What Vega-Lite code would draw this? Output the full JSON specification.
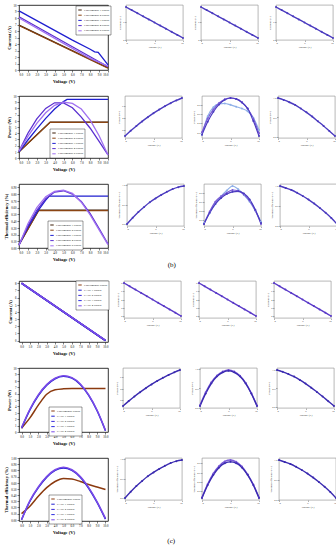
{
"$schema": "https://vega.github.io/schema/vega-lite/v6.json",
"background": "white",
"padding": {"left": 3, "top": 3, "right": 2, "bottom": 2},
"spacing": 11,
"resolve": {"scale": {"color": "independent"}, "legend": {"color": "independent"}},
"datasets": {
"big": [
{"p":"B1","s":"Experimental 1 results","v":0,"y":6.9},{"p":"B1","s":"Experimental 1 results","v":10,"y":0.35},
{"p":"B1","s":"Experimental 2 results","v":0,"y":6.85},{"p":"B1","s":"Experimental 2 results","v":10,"y":0.3},
{"p":"B1","s":"Experimental 3 results","v":0,"y":9.1},{"p":"B1","s":"Experimental 3 results","v":2,"y":7.6},{"p":"B1","s":"Experimental 3 results","v":4,"y":6.1},{"p":"B1","s":"Experimental 3 results","v":6,"y":4.6},{"p":"B1","s":"Experimental 3 results","v":8,"y":3.2},{"p":"B1","s":"Experimental 3 results","v":8.5,"y":2.8},{"p":"B1","s":"Experimental 3 results","v":8.9,"y":2.7},{"p":"B1","s":"Experimental 3 results","v":10,"y":0.8},
{"p":"B1","s":"Experimental 4 results","v":0,"y":8.2},{"p":"B1","s":"Experimental 4 results","v":10,"y":0.5},
{"p":"B1","s":"Experimental 5 results","v":0,"y":8.0},{"p":"B1","s":"Experimental 5 results","v":5,"y":4.1},{"p":"B1","s":"Experimental 5 results","v":8,"y":1.8},{"p":"B1","s":"Experimental 5 results","v":10,"y":0.6},

{"p":"B2","s":"Experimental 1 results","v":0,"y":1.0},{"p":"B2","s":"Experimental 1 results","v":3.5,"y":5.8},{"p":"B2","s":"Experimental 1 results","v":10,"y":5.8},
{"p":"B2","s":"Experimental 2 results","v":0,"y":1.0},{"p":"B2","s":"Experimental 2 results","v":3.5,"y":5.75},{"p":"B2","s":"Experimental 2 results","v":10,"y":5.75},
{"p":"B2","s":"Experimental 3 results","v":0,"y":1.0},{"p":"B2","s":"Experimental 3 results","v":1,"y":2.9},{"p":"B2","s":"Experimental 3 results","v":2,"y":4.7},{"p":"B2","s":"Experimental 3 results","v":3,"y":6.4},{"p":"B2","s":"Experimental 3 results","v":4,"y":7.9},{"p":"B2","s":"Experimental 3 results","v":5,"y":9.1},{"p":"B2","s":"Experimental 3 results","v":5.4,"y":9.45},{"p":"B2","s":"Experimental 3 results","v":10,"y":9.45},
{"p":"B2","s":"Experimental 4 results","v":0,"y":1.1},{"p":"B2","s":"Experimental 4 results","v":1,"y":4.0},{"p":"B2","s":"Experimental 4 results","v":2,"y":6.3},{"p":"B2","s":"Experimental 4 results","v":3,"y":8.0},{"p":"B2","s":"Experimental 4 results","v":4,"y":8.9},{"p":"B2","s":"Experimental 4 results","v":5,"y":8.9},{"p":"B2","s":"Experimental 4 results","v":6,"y":8.1},{"p":"B2","s":"Experimental 4 results","v":7,"y":6.6},{"p":"B2","s":"Experimental 4 results","v":8,"y":4.8},{"p":"B2","s":"Experimental 4 results","v":9,"y":2.7},{"p":"B2","s":"Experimental 4 results","v":10,"y":0.5},
{"p":"B2","s":"Experimental 5 results","v":0,"y":1.1},{"p":"B2","s":"Experimental 5 results","v":1,"y":3.5},{"p":"B2","s":"Experimental 5 results","v":2,"y":5.6},{"p":"B2","s":"Experimental 5 results","v":3,"y":7.3},{"p":"B2","s":"Experimental 5 results","v":4,"y":8.5},{"p":"B2","s":"Experimental 5 results","v":5,"y":9.0},{"p":"B2","s":"Experimental 5 results","v":6,"y":8.8},{"p":"B2","s":"Experimental 5 results","v":7,"y":7.9},{"p":"B2","s":"Experimental 5 results","v":8,"y":6.1},{"p":"B2","s":"Experimental 5 results","v":9,"y":3.6},{"p":"B2","s":"Experimental 5 results","v":10,"y":0.5},

{"p":"B3","s":"Experimental 1 results","v":0,"y":0.05},{"p":"B3","s":"Experimental 1 results","v":2.2,"y":0.56},{"p":"B3","s":"Experimental 1 results","v":10,"y":0.56},
{"p":"B3","s":"Experimental 2 results","v":0,"y":0.05},{"p":"B3","s":"Experimental 2 results","v":2.2,"y":0.555},{"p":"B3","s":"Experimental 2 results","v":10,"y":0.555},
{"p":"B3","s":"Experimental 3 results","v":0,"y":0.05},{"p":"B3","s":"Experimental 3 results","v":1,"y":0.31},{"p":"B3","s":"Experimental 3 results","v":2,"y":0.53},{"p":"B3","s":"Experimental 3 results","v":3,"y":0.71},{"p":"B3","s":"Experimental 3 results","v":3.4,"y":0.77},{"p":"B3","s":"Experimental 3 results","v":10,"y":0.77},
{"p":"B3","s":"Experimental 4 results","v":0,"y":0.04},{"p":"B3","s":"Experimental 4 results","v":1,"y":0.33},{"p":"B3","s":"Experimental 4 results","v":2,"y":0.56},{"p":"B3","s":"Experimental 4 results","v":3,"y":0.73},{"p":"B3","s":"Experimental 4 results","v":4,"y":0.83},{"p":"B3","s":"Experimental 4 results","v":5,"y":0.85},{"p":"B3","s":"Experimental 4 results","v":6,"y":0.8},{"p":"B3","s":"Experimental 4 results","v":7,"y":0.69},{"p":"B3","s":"Experimental 4 results","v":8,"y":0.51},{"p":"B3","s":"Experimental 4 results","v":9,"y":0.29},{"p":"B3","s":"Experimental 4 results","v":10,"y":0.06},
{"p":"B3","s":"Experimental 5 results","v":0,"y":0.04},{"p":"B3","s":"Experimental 5 results","v":1,"y":0.36},{"p":"B3","s":"Experimental 5 results","v":2,"y":0.6},{"p":"B3","s":"Experimental 5 results","v":3,"y":0.76},{"p":"B3","s":"Experimental 5 results","v":4,"y":0.84},{"p":"B3","s":"Experimental 5 results","v":5,"y":0.86},{"p":"B3","s":"Experimental 5 results","v":6,"y":0.81},{"p":"B3","s":"Experimental 5 results","v":7,"y":0.68},{"p":"B3","s":"Experimental 5 results","v":8,"y":0.49},{"p":"B3","s":"Experimental 5 results","v":9,"y":0.27},{"p":"B3","s":"Experimental 5 results","v":10,"y":0.05},

{"p":"C1","s":"Experimental results","v":0,"y":8},{"p":"C1","s":"Experimental results","v":10,"y":0},
{"p":"C1","s":"CASE 1 results","v":0,"y":8.02},{"p":"C1","s":"CASE 1 results","v":10,"y":0.02},
{"p":"C1","s":"CASE 2 results","v":0,"y":8.0},{"p":"C1","s":"CASE 2 results","v":10,"y":0.0},
{"p":"C1","s":"CASE 3 results","v":0,"y":7.98},{"p":"C1","s":"CASE 3 results","v":10,"y":0.0},
{"p":"C1","s":"CASE 4 results","v":0,"y":8.0},{"p":"C1","s":"CASE 4 results","v":10,"y":0.02},

{"p":"C2","s":"Experimental results","v":0,"y":0.6},{"p":"C2","s":"Experimental results","v":1,"y":2.2},{"p":"C2","s":"Experimental results","v":2,"y":4.2},{"p":"C2","s":"Experimental results","v":3,"y":5.9},{"p":"C2","s":"Experimental results","v":4,"y":6.6},{"p":"C2","s":"Experimental results","v":5,"y":6.75},{"p":"C2","s":"Experimental results","v":6,"y":6.8},{"p":"C2","s":"Experimental results","v":8,"y":6.8},{"p":"C2","s":"Experimental results","v":10,"y":6.8},
{"p":"C2","s":"CASE 1 results","v":0,"y":0.6},{"p":"C2","s":"CASE 1 results","v":1,"y":3.47},{"p":"C2","s":"CASE 1 results","v":2,"y":5.71},{"p":"C2","s":"CASE 1 results","v":3,"y":7.32},{"p":"C2","s":"CASE 1 results","v":4,"y":8.32},{"p":"C2","s":"CASE 1 results","v":5,"y":8.7},{"p":"C2","s":"CASE 1 results","v":6,"y":8.41},{"p":"C2","s":"CASE 1 results","v":7,"y":7.42},{"p":"C2","s":"CASE 1 results","v":8,"y":5.72},{"p":"C2","s":"CASE 1 results","v":9,"y":3.32},{"p":"C2","s":"CASE 1 results","v":10,"y":0.2},
{"p":"C2","s":"CASE 4 results","v":0,"y":0.65},{"p":"C2","s":"CASE 4 results","v":1,"y":3.55},{"p":"C2","s":"CASE 4 results","v":2,"y":5.8},{"p":"C2","s":"CASE 4 results","v":3,"y":7.4},{"p":"C2","s":"CASE 4 results","v":4,"y":8.4},{"p":"C2","s":"CASE 4 results","v":5,"y":8.78},{"p":"C2","s":"CASE 4 results","v":6,"y":8.49},{"p":"C2","s":"CASE 4 results","v":7,"y":7.5},{"p":"C2","s":"CASE 4 results","v":8,"y":5.8},{"p":"C2","s":"CASE 4 results","v":9,"y":3.4},{"p":"C2","s":"CASE 4 results","v":10,"y":0.25},

{"p":"C3","s":"Experimental results","v":0,"y":0.1},{"p":"C3","s":"Experimental results","v":1,"y":0.22},{"p":"C3","s":"Experimental results","v":2,"y":0.38},{"p":"C3","s":"Experimental results","v":3,"y":0.52},{"p":"C3","s":"Experimental results","v":4,"y":0.62},{"p":"C3","s":"Experimental results","v":5,"y":0.67},{"p":"C3","s":"Experimental results","v":6,"y":0.66},{"p":"C3","s":"Experimental results","v":7,"y":0.62},{"p":"C3","s":"Experimental results","v":8,"y":0.57},{"p":"C3","s":"Experimental results","v":9,"y":0.53},{"p":"C3","s":"Experimental results","v":10,"y":0.49},
{"p":"C3","s":"CASE 1 results","v":0,"y":0.0},{"p":"C3","s":"CASE 1 results","v":1,"y":0.3},{"p":"C3","s":"CASE 1 results","v":2,"y":0.52},{"p":"C3","s":"CASE 1 results","v":3,"y":0.69},{"p":"C3","s":"CASE 1 results","v":4,"y":0.8},{"p":"C3","s":"CASE 1 results","v":5,"y":0.84},{"p":"C3","s":"CASE 1 results","v":6,"y":0.8},{"p":"C3","s":"CASE 1 results","v":7,"y":0.69},{"p":"C3","s":"CASE 1 results","v":8,"y":0.51},{"p":"C3","s":"CASE 1 results","v":9,"y":0.28},{"p":"C3","s":"CASE 1 results","v":10,"y":0.01},
{"p":"C3","s":"CASE 4 results","v":0,"y":0.0},{"p":"C3","s":"CASE 4 results","v":1,"y":0.31},{"p":"C3","s":"CASE 4 results","v":2,"y":0.53},{"p":"C3","s":"CASE 4 results","v":3,"y":0.7},{"p":"C3","s":"CASE 4 results","v":4,"y":0.81},{"p":"C3","s":"CASE 4 results","v":5,"y":0.85},{"p":"C3","s":"CASE 4 results","v":6,"y":0.81},{"p":"C3","s":"CASE 4 results","v":7,"y":0.7},{"p":"C3","s":"CASE 4 results","v":8,"y":0.52},{"p":"C3","s":"CASE 4 results","v":9,"y":0.29},{"p":"C3","s":"CASE 4 results","v":10,"y":0.02}
],
"small": [
{"p":"11","s":"d","v":0,"y":9.0},{"p":"11","s":"d","v":1,"y":8.15},{"p":"11","s":"d","v":2,"y":7.3},{"p":"11","s":"d","v":3,"y":6.45},{"p":"11","s":"d","v":4,"y":5.6},{"p":"11","s":"d","v":5,"y":4.75},{"p":"11","s":"d","v":6,"y":3.9},{"p":"11","s":"d","v":7,"y":3.05},{"p":"11","s":"d","v":8,"y":2.2},{"p":"11","s":"d","v":9,"y":1.35},{"p":"11","s":"d","v":10,"y":0.5},
{"p":"12","s":"d","v":0,"y":9.0},{"p":"12","s":"d","v":1,"y":8.15},{"p":"12","s":"d","v":2,"y":7.3},{"p":"12","s":"d","v":3,"y":6.45},{"p":"12","s":"d","v":4,"y":5.6},{"p":"12","s":"d","v":5,"y":4.75},{"p":"12","s":"d","v":6,"y":3.9},{"p":"12","s":"d","v":7,"y":3.05},{"p":"12","s":"d","v":8,"y":2.2},{"p":"12","s":"d","v":9,"y":1.35},{"p":"12","s":"d","v":10,"y":0.5},
{"p":"13","s":"d","v":0,"y":9.0},{"p":"13","s":"d","v":1,"y":8.15},{"p":"13","s":"d","v":2,"y":7.3},{"p":"13","s":"d","v":3,"y":6.45},{"p":"13","s":"d","v":4,"y":5.6},{"p":"13","s":"d","v":5,"y":4.75},{"p":"13","s":"d","v":6,"y":3.9},{"p":"13","s":"d","v":7,"y":3.05},{"p":"13","s":"d","v":8,"y":2.2},{"p":"13","s":"d","v":9,"y":1.35},{"p":"13","s":"d","v":10,"y":0.5},
{"p":"21","s":"d","v":0,"y":1.0},{"p":"21","s":"d","v":1,"y":1.85},{"p":"21","s":"d","v":2,"y":2.65},{"p":"21","s":"d","v":3,"y":3.4},{"p":"21","s":"d","v":4,"y":4.1},{"p":"21","s":"d","v":5,"y":4.75},{"p":"21","s":"d","v":6,"y":5.35},{"p":"21","s":"d","v":7,"y":5.9},{"p":"21","s":"d","v":8,"y":6.4},{"p":"21","s":"d","v":9,"y":6.85},{"p":"21","s":"d","v":10,"y":7.25},
{"p":"22","s":"l","v":0,"y":0.15},{"p":"22","s":"l","v":1,"y":0.55},{"p":"22","s":"l","v":2,"y":0.75},{"p":"22","s":"l","v":3,"y":0.82},{"p":"22","s":"l","v":4,"y":0.83},{"p":"22","s":"l","v":5,"y":0.8},{"p":"22","s":"l","v":6,"y":0.76},{"p":"22","s":"l","v":7,"y":0.72},{"p":"22","s":"l","v":8,"y":0.66},{"p":"22","s":"l","v":9,"y":0.52},{"p":"22","s":"l","v":10,"y":0.25},
{"p":"22","s":"m","v":0,"y":0.2},{"p":"22","s":"m","v":1,"y":0.5},{"p":"22","s":"m","v":2,"y":0.7},{"p":"22","s":"m","v":3,"y":0.84},{"p":"22","s":"m","v":4,"y":0.92},{"p":"22","s":"m","v":5,"y":0.95},{"p":"22","s":"m","v":6,"y":0.93},{"p":"22","s":"m","v":7,"y":0.86},{"p":"22","s":"m","v":8,"y":0.72},{"p":"22","s":"m","v":9,"y":0.5},{"p":"22","s":"m","v":10,"y":0.18},
{"p":"22","s":"d","v":0,"y":0.15},{"p":"22","s":"d","v":1,"y":0.43},{"p":"22","s":"d","v":2,"y":0.65},{"p":"22","s":"d","v":3,"y":0.81},{"p":"22","s":"d","v":4,"y":0.91},{"p":"22","s":"d","v":5,"y":0.95},{"p":"22","s":"d","v":6,"y":0.93},{"p":"22","s":"d","v":7,"y":0.85},{"p":"22","s":"d","v":8,"y":0.72},{"p":"22","s":"d","v":9,"y":0.45},{"p":"22","s":"d","v":10,"y":0.12},
{"p":"23","s":"d","v":0,"y":1.0},{"p":"23","s":"d","v":1,"y":0.95},{"p":"23","s":"d","v":2,"y":0.89},{"p":"23","s":"d","v":3,"y":0.82},{"p":"23","s":"d","v":4,"y":0.73},{"p":"23","s":"d","v":5,"y":0.63},{"p":"23","s":"d","v":6,"y":0.52},{"p":"23","s":"d","v":7,"y":0.4},{"p":"23","s":"d","v":8,"y":0.28},{"p":"23","s":"d","v":9,"y":0.15},{"p":"23","s":"d","v":10,"y":0.02},
{"p":"31","s":"d","v":0,"y":0.0},{"p":"31","s":"d","v":1,"y":0.16},{"p":"31","s":"d","v":2,"y":0.31},{"p":"31","s":"d","v":3,"y":0.44},{"p":"31","s":"d","v":4,"y":0.56},{"p":"31","s":"d","v":5,"y":0.66},{"p":"31","s":"d","v":6,"y":0.75},{"p":"31","s":"d","v":7,"y":0.83},{"p":"31","s":"d","v":8,"y":0.9},{"p":"31","s":"d","v":9,"y":0.95},{"p":"31","s":"d","v":10,"y":0.98},
{"p":"32","s":"l","v":0,"y":0.12},{"p":"32","s":"l","v":1,"y":0.35},{"p":"32","s":"l","v":2,"y":0.55},{"p":"32","s":"l","v":3,"y":0.72},{"p":"32","s":"l","v":4,"y":0.85},{"p":"32","s":"l","v":5,"y":0.95},{"p":"32","s":"l","v":6,"y":0.88},{"p":"32","s":"l","v":7,"y":0.75},{"p":"32","s":"l","v":8,"y":0.6},{"p":"32","s":"l","v":9,"y":0.4},{"p":"32","s":"l","v":10,"y":0.15},
{"p":"32","s":"m","v":0,"y":0.1},{"p":"32","s":"m","v":1,"y":0.38},{"p":"32","s":"m","v":2,"y":0.6},{"p":"32","s":"m","v":3,"y":0.72},{"p":"32","s":"m","v":4,"y":0.8},{"p":"32","s":"m","v":5,"y":0.86},{"p":"32","s":"m","v":6,"y":0.84},{"p":"32","s":"m","v":7,"y":0.76},{"p":"32","s":"m","v":8,"y":0.62},{"p":"32","s":"m","v":9,"y":0.4},{"p":"32","s":"m","v":10,"y":0.1},
{"p":"32","s":"d","v":0,"y":0.1},{"p":"32","s":"d","v":1,"y":0.35},{"p":"32","s":"d","v":2,"y":0.55},{"p":"32","s":"d","v":3,"y":0.68},{"p":"32","s":"d","v":4,"y":0.77},{"p":"32","s":"d","v":5,"y":0.82},{"p":"32","s":"d","v":6,"y":0.83},{"p":"32","s":"d","v":7,"y":0.78},{"p":"32","s":"d","v":8,"y":0.65},{"p":"32","s":"d","v":9,"y":0.42},{"p":"32","s":"d","v":10,"y":0.12},
{"p":"33","s":"d","v":0,"y":1.0},{"p":"33","s":"d","v":1,"y":0.95},{"p":"33","s":"d","v":2,"y":0.9},{"p":"33","s":"d","v":3,"y":0.83},{"p":"33","s":"d","v":4,"y":0.75},{"p":"33","s":"d","v":5,"y":0.66},{"p":"33","s":"d","v":6,"y":0.56},{"p":"33","s":"d","v":7,"y":0.45},{"p":"33","s":"d","v":8,"y":0.33},{"p":"33","s":"d","v":9,"y":0.2},{"p":"33","s":"d","v":10,"y":0.05},
{"p":"41","s":"d","v":0,"y":8.0},{"p":"41","s":"d","v":1,"y":7.2},{"p":"41","s":"d","v":2,"y":6.4},{"p":"41","s":"d","v":3,"y":5.6},{"p":"41","s":"d","v":4,"y":4.8},{"p":"41","s":"d","v":5,"y":4.0},{"p":"41","s":"d","v":6,"y":3.2},{"p":"41","s":"d","v":7,"y":2.4},{"p":"41","s":"d","v":8,"y":1.6},{"p":"41","s":"d","v":9,"y":0.8},{"p":"41","s":"d","v":10,"y":0.0},
{"p":"42","s":"d","v":0,"y":8.0},{"p":"42","s":"d","v":1,"y":7.2},{"p":"42","s":"d","v":2,"y":6.4},{"p":"42","s":"d","v":3,"y":5.6},{"p":"42","s":"d","v":4,"y":4.8},{"p":"42","s":"d","v":5,"y":4.0},{"p":"42","s":"d","v":6,"y":3.2},{"p":"42","s":"d","v":7,"y":2.4},{"p":"42","s":"d","v":8,"y":1.6},{"p":"42","s":"d","v":9,"y":0.8},{"p":"42","s":"d","v":10,"y":0.0},
{"p":"43","s":"d","v":0,"y":8.0},{"p":"43","s":"d","v":1,"y":7.2},{"p":"43","s":"d","v":2,"y":6.4},{"p":"43","s":"d","v":3,"y":5.6},{"p":"43","s":"d","v":4,"y":4.8},{"p":"43","s":"d","v":5,"y":4.0},{"p":"43","s":"d","v":6,"y":3.2},{"p":"43","s":"d","v":7,"y":2.4},{"p":"43","s":"d","v":8,"y":1.6},{"p":"43","s":"d","v":9,"y":0.8},{"p":"43","s":"d","v":10,"y":0.0},
{"p":"51","s":"d","v":0,"y":1.0},{"p":"51","s":"d","v":1,"y":1.85},{"p":"51","s":"d","v":2,"y":2.65},{"p":"51","s":"d","v":3,"y":3.4},{"p":"51","s":"d","v":4,"y":4.1},{"p":"51","s":"d","v":5,"y":4.75},{"p":"51","s":"d","v":6,"y":5.35},{"p":"51","s":"d","v":7,"y":5.9},{"p":"51","s":"d","v":8,"y":6.4},{"p":"51","s":"d","v":9,"y":6.85},{"p":"51","s":"d","v":10,"y":7.25},
{"p":"52","s":"m","v":0,"y":0.07},{"p":"52","s":"m","v":1,"y":0.4},{"p":"52","s":"m","v":2,"y":0.66},{"p":"52","s":"m","v":3,"y":0.83},{"p":"52","s":"m","v":4,"y":0.93},{"p":"52","s":"m","v":5,"y":0.97},{"p":"52","s":"m","v":6,"y":0.93},{"p":"52","s":"m","v":7,"y":0.82},{"p":"52","s":"m","v":8,"y":0.64},{"p":"52","s":"m","v":9,"y":0.38},{"p":"52","s":"m","v":10,"y":0.06},
{"p":"52","s":"d","v":0,"y":0.05},{"p":"52","s":"d","v":1,"y":0.37},{"p":"52","s":"d","v":2,"y":0.63},{"p":"52","s":"d","v":3,"y":0.81},{"p":"52","s":"d","v":4,"y":0.91},{"p":"52","s":"d","v":5,"y":0.95},{"p":"52","s":"d","v":6,"y":0.91},{"p":"52","s":"d","v":7,"y":0.81},{"p":"52","s":"d","v":8,"y":0.63},{"p":"52","s":"d","v":9,"y":0.37},{"p":"52","s":"d","v":10,"y":0.05},
{"p":"53","s":"d","v":0,"y":1.0},{"p":"53","s":"d","v":1,"y":0.95},{"p":"53","s":"d","v":2,"y":0.89},{"p":"53","s":"d","v":3,"y":0.82},{"p":"53","s":"d","v":4,"y":0.73},{"p":"53","s":"d","v":5,"y":0.63},{"p":"53","s":"d","v":6,"y":0.52},{"p":"53","s":"d","v":7,"y":0.4},{"p":"53","s":"d","v":8,"y":0.28},{"p":"53","s":"d","v":9,"y":0.15},{"p":"53","s":"d","v":10,"y":0.02},
{"p":"61","s":"d","v":0,"y":0.0},{"p":"61","s":"d","v":1,"y":0.16},{"p":"61","s":"d","v":2,"y":0.31},{"p":"61","s":"d","v":3,"y":0.44},{"p":"61","s":"d","v":4,"y":0.56},{"p":"61","s":"d","v":5,"y":0.66},{"p":"61","s":"d","v":6,"y":0.75},{"p":"61","s":"d","v":7,"y":0.83},{"p":"61","s":"d","v":8,"y":0.9},{"p":"61","s":"d","v":9,"y":0.95},{"p":"61","s":"d","v":10,"y":0.98},
{"p":"62","s":"m","v":0,"y":0.06},{"p":"62","s":"m","v":1,"y":0.35},{"p":"62","s":"m","v":2,"y":0.58},{"p":"62","s":"m","v":3,"y":0.74},{"p":"62","s":"m","v":4,"y":0.84},{"p":"62","s":"m","v":5,"y":0.87},{"p":"62","s":"m","v":6,"y":0.83},{"p":"62","s":"m","v":7,"y":0.73},{"p":"62","s":"m","v":8,"y":0.56},{"p":"62","s":"m","v":9,"y":0.34},{"p":"62","s":"m","v":10,"y":0.06},
{"p":"62","s":"d","v":0,"y":0.05},{"p":"62","s":"d","v":1,"y":0.33},{"p":"62","s":"d","v":2,"y":0.55},{"p":"62","s":"d","v":3,"y":0.71},{"p":"62","s":"d","v":4,"y":0.8},{"p":"62","s":"d","v":5,"y":0.83},{"p":"62","s":"d","v":6,"y":0.8},{"p":"62","s":"d","v":7,"y":0.71},{"p":"62","s":"d","v":8,"y":0.55},{"p":"62","s":"d","v":9,"y":0.33},{"p":"62","s":"d","v":10,"y":0.05},
{"p":"63","s":"d","v":0,"y":1.0},{"p":"63","s":"d","v":1,"y":0.95},{"p":"63","s":"d","v":2,"y":0.9},{"p":"63","s":"d","v":3,"y":0.83},{"p":"63","s":"d","v":4,"y":0.75},{"p":"63","s":"d","v":5,"y":0.66},{"p":"63","s":"d","v":6,"y":0.56},{"p":"63","s":"d","v":7,"y":0.45},{"p":"63","s":"d","v":8,"y":0.33},{"p":"63","s":"d","v":9,"y":0.2},{"p":"63","s":"d","v":10,"y":0.05}
]
},
"vconcat": [
{"hconcat": [
 {"width": 89, "height": 65, "view": {"stroke": "#000", "strokeWidth": 0.8},
  "data": {"name": "big"}, "transform": [{"filter": "datum.p == 'B1'"}],
  "mark": {"type": "line", "strokeWidth": 1.3},
  "encoding": {
   "x": {"field": "v", "type": "quantitative", "scale": {"domain": [0, 10], "nice": false}, "axis": {"title": "Voltage (V)", "values": [0,1,2,3,4,5,6,7,8,9,10], "format": ".1f", "labelFontSize": 3, "titleFontSize": 4.6, "titleFontWeight": "bold", "tickSize": 2, "labelPadding": 1, "titlePadding": 2, "labelColor": "#000", "titleColor": "#000", "tickColor": "#000"}},
   "y": {"field": "y", "type": "quantitative", "scale": {"domain": [0, 10], "nice": false}, "axis": {"title": "Current (A)", "values": [0,1,2,3,4,5,6,7,8,9,10], "labelFontSize": 3, "titleFontSize": 4.6, "titleFontWeight": "bold", "tickSize": 2, "labelPadding": 1, "titlePadding": 2, "labelColor": "#000", "titleColor": "#000", "tickColor": "#000"}},
   "color": {"field": "s", "type": "nominal", "scale": {"domain": ["Experimental 1 results","Experimental 2 results","Experimental 3 results","Experimental 4 results","Experimental 5 results"], "range": ["#3a1a05","#8b4513","#1f1fd0","#5a2fd0","#a070f0"]}, "legend": {"orient": "none", "legendX": 57, "legendY": 1, "title": null, "fillColor": "white", "strokeColor": "black"}}
  }},
 {"width": 57, "height": 35, "data": {"name": "small"}, "transform": [{"filter": "datum.p == '11'"}],
  "mark": {"type": "line", "strokeWidth": 1.4, "interpolate": "monotone", "point": {"filled": true, "size": 4}},
  "encoding": {"x": {"field": "v", "type": "quantitative", "scale": {"domain": [0, 10]}, "axis": {"title": "Voltage (V)", "tickCount": 3}},
   "y": {"field": "y", "type": "quantitative", "scale": {"zero": false, "nice": false, "padding": 2}, "axis": {"title": "Current (A)", "tickCount": 3}},
   "color": {"field": "s", "type": "nominal", "scale": {"domain": ["l","m","d"], "range": ["#8fb0e8","#7a5ad8","#4a3abf"]}, "legend": null}}},
 {"width": 57, "height": 35, "data": {"name": "small"}, "transform": [{"filter": "datum.p == '12'"}],
  "mark": {"type": "line", "strokeWidth": 1.4, "interpolate": "monotone", "point": {"filled": true, "size": 4}},
  "encoding": {"x": {"field": "v", "type": "quantitative", "scale": {"domain": [0, 10]}, "axis": {"title": "Voltage (V)", "tickCount": 3}},
   "y": {"field": "y", "type": "quantitative", "scale": {"zero": false, "nice": false, "padding": 2}, "axis": {"title": "Current (A)", "tickCount": 3}},
   "color": {"field": "s", "type": "nominal", "scale": {"domain": ["l","m","d"], "range": ["#8fb0e8","#7a5ad8","#4a3abf"]}, "legend": null}}},
 {"width": 57, "height": 35, "data": {"name": "small"}, "transform": [{"filter": "datum.p == '13'"}],
  "mark": {"type": "line", "strokeWidth": 1.4, "interpolate": "monotone", "point": {"filled": true, "size": 4}},
  "encoding": {"x": {"field": "v", "type": "quantitative", "scale": {"domain": [0, 10]}, "axis": {"title": "Voltage (V)", "tickCount": 3}},
   "y": {"field": "y", "type": "quantitative", "scale": {"zero": false, "nice": false, "padding": 2}, "axis": {"title": "Current (A)", "tickCount": 3}},
   "color": {"field": "s", "type": "nominal", "scale": {"domain": ["l","m","d"], "range": ["#8fb0e8","#7a5ad8","#4a3abf"]}, "legend": null}}}
], "spacing": 6, "resolve": {"scale": {"color": "independent"}, "legend": {"color": "independent"}}},

{"hconcat": [
 {"width": 89, "height": 62, "view": {"stroke": "#000", "strokeWidth": 0.8},
  "data": {"name": "big"}, "transform": [{"filter": "datum.p == 'B2'"}],
  "mark": {"type": "line", "strokeWidth": 1.3},
  "encoding": {
   "x": {"field": "v", "type": "quantitative", "scale": {"domain": [0, 10], "nice": false}, "axis": {"title": "Voltage (V)", "values": [0,1,2,3,4,5,6,7,8,9,10], "format": ".1f", "labelFontSize": 3, "titleFontSize": 4.6, "titleFontWeight": "bold", "tickSize": 2, "labelPadding": 1, "titlePadding": 2, "labelColor": "#000", "titleColor": "#000", "tickColor": "#000"}},
   "y": {"field": "y", "type": "quantitative", "scale": {"domain": [0, 10], "nice": false}, "axis": {"title": "Power (W)", "values": [0,1,2,3,4,5,6,7,8,9,10], "labelFontSize": 3, "titleFontSize": 4.6, "titleFontWeight": "bold", "tickSize": 2, "labelPadding": 1, "titlePadding": 2, "labelColor": "#000", "titleColor": "#000", "tickColor": "#000"}},
   "color": {"field": "s", "type": "nominal", "scale": {"domain": ["Experimental 1 results","Experimental 2 results","Experimental 3 results","Experimental 4 results","Experimental 5 results"], "range": ["#3a1a05","#8b4513","#1f1fd0","#5a2fd0","#a070f0"]}, "legend": {"orient": "none", "legendX": 31, "legendY": 33, "title": null, "fillColor": "white", "strokeColor": "black"}}
  }},
 {"width": 57, "height": 42, "data": {"name": "small"}, "transform": [{"filter": "datum.p == '21'"}],
  "mark": {"type": "line", "strokeWidth": 1.4, "interpolate": "monotone", "point": {"filled": true, "size": 4}},
  "encoding": {"x": {"field": "v", "type": "quantitative", "scale": {"domain": [0, 10]}, "axis": {"title": "Voltage (V)", "tickCount": 3}},
   "y": {"field": "y", "type": "quantitative", "scale": {"zero": false, "nice": false, "padding": 2}, "axis": {"title": "Power (W)", "tickCount": 3}},
   "color": {"field": "s", "type": "nominal", "scale": {"domain": ["l","m","d"], "range": ["#8fb0e8","#7a5ad8","#4a3abf"]}, "legend": null}}},
 {"width": 57, "height": 42, "data": {"name": "small"}, "transform": [{"filter": "datum.p == '22'"}],
  "mark": {"type": "line", "strokeWidth": 1.2, "interpolate": "monotone", "point": {"filled": true, "size": 4}},
  "encoding": {"x": {"field": "v", "type": "quantitative", "scale": {"domain": [0, 10]}, "axis": {"title": "Voltage (V)", "tickCount": 3}},
   "y": {"field": "y", "type": "quantitative", "scale": {"zero": false, "nice": false, "padding": 2}, "axis": {"title": "Power (W)", "tickCount": 3}},
   "color": {"field": "s", "type": "nominal", "scale": {"domain": ["l","m","d"], "range": ["#8fb0e8","#7a5ad8","#4a3abf"]}, "legend": null}}},
 {"width": 57, "height": 42, "data": {"name": "small"}, "transform": [{"filter": "datum.p == '23'"}],
  "mark": {"type": "line", "strokeWidth": 1.4, "interpolate": "monotone", "point": {"filled": true, "size": 4}},
  "encoding": {"x": {"field": "v", "type": "quantitative", "scale": {"domain": [0, 10]}, "axis": {"title": "Voltage (V)", "tickCount": 3}},
   "y": {"field": "y", "type": "quantitative", "scale": {"zero": false, "nice": false, "padding": 2}, "axis": {"title": "Power (W)", "tickCount": 3}},
   "color": {"field": "s", "type": "nominal", "scale": {"domain": ["l","m","d"], "range": ["#8fb0e8","#7a5ad8","#4a3abf"]}, "legend": null}}}
], "spacing": 6, "resolve": {"scale": {"color": "independent"}, "legend": {"color": "independent"}}},

{"title": {"text": "(b)", "orient": "bottom", "anchor": "middle", "offset": 0, "color": "#000", "font": "Liberation Serif", "fontSize": 7, "fontWeight": "normal"},
 "hconcat": [
 {"width": 89, "height": 64, "view": {"stroke": "#000", "strokeWidth": 0.8},
  "data": {"name": "big"}, "transform": [{"filter": "datum.p == 'B3'"}],
  "mark": {"type": "line", "strokeWidth": 1.3},
  "encoding": {
   "x": {"field": "v", "type": "quantitative", "scale": {"domain": [0, 10], "nice": false}, "axis": {"title": "Voltage (V)", "values": [0,1,2,3,4,5,6,7,8,9,10], "format": ".1f", "labelFontSize": 3, "titleFontSize": 4.6, "titleFontWeight": "bold", "tickSize": 2, "labelPadding": 1, "titlePadding": 2, "labelColor": "#000", "titleColor": "#000", "tickColor": "#000"}},
   "y": {"field": "y", "type": "quantitative", "scale": {"domain": [0, 0.95], "nice": false}, "axis": {"title": "Thermal efficiency (%)", "values": [0,0.1,0.2,0.3,0.4,0.5,0.6,0.7,0.8,0.9], "format": ".2f", "labelFontSize": 3, "titleFontSize": 4.6, "titleFontWeight": "bold", "tickSize": 2, "labelPadding": 1, "titlePadding": 2, "labelColor": "#000", "titleColor": "#000", "tickColor": "#000"}},
   "color": {"field": "s", "type": "nominal", "scale": {"domain": ["Experimental 1 results","Experimental 2 results","Experimental 3 results","Experimental 4 results","Experimental 5 results"], "range": ["#3a1a05","#8b4513","#1f1fd0","#5a2fd0","#a070f0"]}, "legend": {"orient": "none", "legendX": 29, "legendY": 37, "title": null, "fillColor": "white", "strokeColor": "black"}}
  }},
 {"width": 57, "height": 42, "data": {"name": "small"}, "transform": [{"filter": "datum.p == '31'"}],
  "mark": {"type": "line", "strokeWidth": 1.4, "interpolate": "monotone", "point": {"filled": true, "size": 4}},
  "encoding": {"x": {"field": "v", "type": "quantitative", "scale": {"domain": [0, 10]}, "axis": {"title": "Voltage (V)", "tickCount": 3}},
   "y": {"field": "y", "type": "quantitative", "scale": {"zero": false, "nice": false, "padding": 2}, "axis": {"title": "Thermal efficiency (%)", "tickCount": 3}},
   "color": {"field": "s", "type": "nominal", "scale": {"domain": ["l","m","d"], "range": ["#8fb0e8","#7a5ad8","#4a3abf"]}, "legend": null}}},
 {"width": 57, "height": 42, "data": {"name": "small"}, "transform": [{"filter": "datum.p == '32'"}],
  "mark": {"type": "line", "strokeWidth": 1.2, "interpolate": "monotone", "point": {"filled": true, "size": 4}},
  "encoding": {"x": {"field": "v", "type": "quantitative", "scale": {"domain": [0, 10]}, "axis": {"title": "Voltage (V)", "tickCount": 3}},
   "y": {"field": "y", "type": "quantitative", "scale": {"zero": false, "nice": false, "padding": 2}, "axis": {"title": "Thermal efficiency (%)", "tickCount": 3}},
   "color": {"field": "s", "type": "nominal", "scale": {"domain": ["l","m","d"], "range": ["#8fb0e8","#7a5ad8","#4a3abf"]}, "legend": null}}},
 {"width": 57, "height": 42, "data": {"name": "small"}, "transform": [{"filter": "datum.p == '33'"}],
  "mark": {"type": "line", "strokeWidth": 1.4, "interpolate": "monotone", "point": {"filled": true, "size": 4}},
  "encoding": {"x": {"field": "v", "type": "quantitative", "scale": {"domain": [0, 10]}, "axis": {"title": "Voltage (V)", "tickCount": 3}},
   "y": {"field": "y", "type": "quantitative", "scale": {"zero": false, "nice": false, "padding": 2}, "axis": {"title": "Thermal efficiency (%)", "tickCount": 3}},
   "color": {"field": "s", "type": "nominal", "scale": {"domain": ["l","m","d"], "range": ["#8fb0e8","#7a5ad8","#4a3abf"]}, "legend": null}}}
], "spacing": 6, "resolve": {"scale": {"color": "independent"}, "legend": {"color": "independent"}}},

{"hconcat": [
 {"width": 89, "height": 61, "view": {"stroke": "#000", "strokeWidth": 0.8},
  "data": {"name": "big"}, "transform": [{"filter": "datum.p == 'C1'"}],
  "mark": {"type": "line", "strokeWidth": 1.5},
  "encoding": {
   "x": {"field": "v", "type": "quantitative", "scale": {"domain": [-0.3, 10.3], "nice": false}, "axis": {"title": "Voltage (V)", "values": [0,1,2,3,4,5,6,7,8,9,10], "format": ".1f", "labelFontSize": 3, "titleFontSize": 4.6, "titleFontWeight": "bold", "tickSize": 2, "labelPadding": 1, "titlePadding": 2, "labelColor": "#000", "titleColor": "#000", "tickColor": "#000"}},
   "y": {"field": "y", "type": "quantitative", "scale": {"domain": [-0.2, 8.3], "nice": false}, "axis": {"title": "Current (A)", "values": [0,1,2,3,4,5,6,7,8], "labelFontSize": 3, "titleFontSize": 4.6, "titleFontWeight": "bold", "tickSize": 2, "labelPadding": 1, "titlePadding": 2, "labelColor": "#000", "titleColor": "#000", "tickColor": "#000"}},
   "color": {"field": "s", "type": "nominal", "scale": {"domain": ["Experimental results","CASE 1 results","CASE 2 results","CASE 3 results","CASE 4 results"], "range": ["#8b3a0f","#1f1fd0","#3a2ad8","#2d2de0","#7a4ae8"]}, "legend": {"orient": "none", "legendX": 57, "legendY": 0, "title": null, "fillColor": "white", "strokeColor": "black"}}
  }},
 {"width": 57, "height": 37, "data": {"name": "small"}, "transform": [{"filter": "datum.p == '41'"}],
  "mark": {"type": "line", "strokeWidth": 1.4, "interpolate": "monotone", "point": {"filled": true, "size": 4}},
  "encoding": {"x": {"field": "v", "type": "quantitative", "scale": {"domain": [0, 10]}, "axis": {"title": "Voltage (V)", "tickCount": 3}},
   "y": {"field": "y", "type": "quantitative", "scale": {"zero": false, "nice": false, "padding": 2}, "axis": {"title": "Current (A)", "tickCount": 3}},
   "color": {"field": "s", "type": "nominal", "scale": {"domain": ["l","m","d"], "range": ["#8fb0e8","#7a5ad8","#5a3ac8"]}, "legend": null}}},
 {"width": 57, "height": 37, "data": {"name": "small"}, "transform": [{"filter": "datum.p == '42'"}],
  "mark": {"type": "line", "strokeWidth": 1.4, "interpolate": "monotone", "point": {"filled": true, "size": 4}},
  "encoding": {"x": {"field": "v", "type": "quantitative", "scale": {"domain": [0, 10]}, "axis": {"title": "Voltage (V)", "tickCount": 3}},
   "y": {"field": "y", "type": "quantitative", "scale": {"zero": false, "nice": false, "padding": 2}, "axis": {"title": "Current (A)", "tickCount": 3}},
   "color": {"field": "s", "type": "nominal", "scale": {"domain": ["l","m","d"], "range": ["#8fb0e8","#7a5ad8","#5a3ac8"]}, "legend": null}}},
 {"width": 57, "height": 37, "data": {"name": "small"}, "transform": [{"filter": "datum.p == '43'"}],
  "mark": {"type": "line", "strokeWidth": 1.4, "interpolate": "monotone", "point": {"filled": true, "size": 4}},
  "encoding": {"x": {"field": "v", "type": "quantitative", "scale": {"domain": [0, 10]}, "axis": {"title": "Voltage (V)", "tickCount": 3}},
   "y": {"field": "y", "type": "quantitative", "scale": {"zero": false, "nice": false, "padding": 2}, "axis": {"title": "Current (A)", "tickCount": 3}},
   "color": {"field": "s", "type": "nominal", "scale": {"domain": ["l","m","d"], "range": ["#8fb0e8","#7a5ad8","#5a3ac8"]}, "legend": null}}}
], "spacing": 6, "resolve": {"scale": {"color": "independent"}, "legend": {"color": "independent"}}},

{"hconcat": [
 {"width": 89, "height": 64, "view": {"stroke": "#000", "strokeWidth": 0.8},
  "data": {"name": "big"}, "transform": [{"filter": "datum.p == 'C2'"}],
  "mark": {"type": "line", "strokeWidth": 1.5, "interpolate": "monotone"},
  "encoding": {
   "x": {"field": "v", "type": "quantitative", "scale": {"domain": [-0.3, 10.3], "nice": false}, "axis": {"title": "Voltage (V)", "values": [0,1,2,3,4,5,6,7,8,9,10], "format": ".1f", "labelFontSize": 3, "titleFontSize": 4.6, "titleFontWeight": "bold", "tickSize": 2, "labelPadding": 1, "titlePadding": 2, "labelColor": "#000", "titleColor": "#000", "tickColor": "#000"}},
   "y": {"field": "y", "type": "quantitative", "scale": {"domain": [0, 10], "nice": false}, "axis": {"title": "Power (W)", "values": [0,1,2,3,4,5,6,7,8,9,10], "labelFontSize": 3, "titleFontSize": 4.6, "titleFontWeight": "bold", "tickSize": 2, "labelPadding": 1, "titlePadding": 2, "labelColor": "#000", "titleColor": "#000", "tickColor": "#000"}},
   "color": {"field": "s", "type": "nominal", "scale": {"domain": ["Experimental results","CASE 1 results","CASE 2 results","CASE 3 results","CASE 4 results"], "range": ["#8b3a0f","#1f1fd0","#3a2ad8","#2d2de0","#7a4ae8"]}, "legend": {"orient": "none", "legendX": 30, "legendY": 39, "title": null, "fillColor": "white", "strokeColor": "black"}}
  }},
 {"width": 57, "height": 40, "data": {"name": "small"}, "transform": [{"filter": "datum.p == '51'"}],
  "mark": {"type": "line", "strokeWidth": 1.4, "interpolate": "monotone", "point": {"filled": true, "size": 4}},
  "encoding": {"x": {"field": "v", "type": "quantitative", "scale": {"domain": [0, 10]}, "axis": {"title": "Voltage (V)", "tickCount": 3}},
   "y": {"field": "y", "type": "quantitative", "scale": {"zero": false, "nice": false, "padding": 2}, "axis": {"title": "Power (W)", "tickCount": 3}},
   "color": {"field": "s", "type": "nominal", "scale": {"domain": ["l","m","d"], "range": ["#8fb0e8","#7a5ad8","#3a2ab0"]}, "legend": null}}},
 {"width": 57, "height": 40, "data": {"name": "small"}, "transform": [{"filter": "datum.p == '52'"}],
  "mark": {"type": "line", "strokeWidth": 1.4, "interpolate": "monotone", "point": {"filled": true, "size": 4}},
  "encoding": {"x": {"field": "v", "type": "quantitative", "scale": {"domain": [0, 10]}, "axis": {"title": "Voltage (V)", "tickCount": 3}},
   "y": {"field": "y", "type": "quantitative", "scale": {"zero": false, "nice": false, "padding": 2}, "axis": {"title": "Power (W)", "tickCount": 3}},
   "color": {"field": "s", "type": "nominal", "scale": {"domain": ["l","m","d"], "range": ["#8fb0e8","#7a5ad8","#3a2ab0"]}, "legend": null}}},
 {"width": 57, "height": 40, "data": {"name": "small"}, "transform": [{"filter": "datum.p == '53'"}],
  "mark": {"type": "line", "strokeWidth": 1.4, "interpolate": "monotone", "point": {"filled": true, "size": 4}},
  "encoding": {"x": {"field": "v", "type": "quantitative", "scale": {"domain": [0, 10]}, "axis": {"title": "Voltage (V)", "tickCount": 3}},
   "y": {"field": "y", "type": "quantitative", "scale": {"zero": false, "nice": false, "padding": 2}, "axis": {"title": "Power (W)", "tickCount": 3}},
   "color": {"field": "s", "type": "nominal", "scale": {"domain": ["l","m","d"], "range": ["#8fb0e8","#7a5ad8","#3a2ab0"]}, "legend": null}}}
], "spacing": 6, "resolve": {"scale": {"color": "independent"}, "legend": {"color": "independent"}}},

{"title": {"text": "(c)", "orient": "bottom", "anchor": "middle", "offset": 3, "color": "#000", "font": "Liberation Serif", "fontSize": 7, "fontWeight": "normal"},
 "hconcat": [
 {"width": 89, "height": 63, "view": {"stroke": "#000", "strokeWidth": 0.8},
  "data": {"name": "big"}, "transform": [{"filter": "datum.p == 'C3'"}],
  "mark": {"type": "line", "strokeWidth": 1.5, "interpolate": "monotone"},
  "encoding": {
   "x": {"field": "v", "type": "quantitative", "scale": {"domain": [-0.3, 10.3], "nice": false}, "axis": {"title": "Voltage (V)", "values": [0,1,2,3,4,5,6,7,8,9,10], "format": ".1f", "labelFontSize": 3, "titleFontSize": 4.6, "titleFontWeight": "bold", "tickSize": 2, "labelPadding": 1, "titlePadding": 2, "labelColor": "#000", "titleColor": "#000", "tickColor": "#000"}},
   "y": {"field": "y", "type": "quantitative", "scale": {"domain": [-0.02, 1.0], "nice": false}, "axis": {"title": "Thermal efficiency (%)", "values": [0,0.1,0.2,0.3,0.4,0.5,0.6,0.7,0.8,0.9,1.0], "format": ".2f", "labelFontSize": 3, "titleFontSize": 4.6, "titleFontWeight": "bold", "tickSize": 2, "labelPadding": 1, "titlePadding": 2, "labelColor": "#000", "titleColor": "#000", "tickColor": "#000"}},
   "color": {"field": "s", "type": "nominal", "scale": {"domain": ["Experimental results","CASE 1 results","CASE 2 results","CASE 3 results","CASE 4 results"], "range": ["#8b3a0f","#1f1fd0","#3a2ad8","#2d2de0","#7a4ae8"]}, "legend": {"orient": "none", "legendX": 30, "legendY": 37, "title": null, "fillColor": "white", "strokeColor": "black"}}
  }},
 {"width": 57, "height": 42, "data": {"name": "small"}, "transform": [{"filter": "datum.p == '61'"}],
  "mark": {"type": "line", "strokeWidth": 1.4, "interpolate": "monotone", "point": {"filled": true, "size": 4}},
  "encoding": {"x": {"field": "v", "type": "quantitative", "scale": {"domain": [0, 10]}, "axis": {"title": "Voltage (V)", "tickCount": 3}},
   "y": {"field": "y", "type": "quantitative", "scale": {"zero": false, "nice": false, "padding": 2}, "axis": {"title": "Thermal efficiency (%)", "tickCount": 3}},
   "color": {"field": "s", "type": "nominal", "scale": {"domain": ["l","m","d"], "range": ["#8fb0e8","#7a5ad8","#3a2ab0"]}, "legend": null}}},
 {"width": 57, "height": 42, "data": {"name": "small"}, "transform": [{"filter": "datum.p == '62'"}],
  "mark": {"type": "line", "strokeWidth": 1.4, "interpolate": "monotone", "point": {"filled": true, "size": 4}},
  "encoding": {"x": {"field": "v", "type": "quantitative", "scale": {"domain": [0, 10]}, "axis": {"title": "Voltage (V)", "tickCount": 3}},
   "y": {"field": "y", "type": "quantitative", "scale": {"zero": false, "nice": false, "padding": 2}, "axis": {"title": "Thermal efficiency (%)", "tickCount": 3}},
   "color": {"field": "s", "type": "nominal", "scale": {"domain": ["l","m","d"], "range": ["#8fb0e8","#7a5ad8","#3a2ab0"]}, "legend": null}}},
 {"width": 57, "height": 42, "data": {"name": "small"}, "transform": [{"filter": "datum.p == '63'"}],
  "mark": {"type": "line", "strokeWidth": 1.4, "interpolate": "monotone", "point": {"filled": true, "size": 4}},
  "encoding": {"x": {"field": "v", "type": "quantitative", "scale": {"domain": [0, 10]}, "axis": {"title": "Voltage (V)", "tickCount": 3}},
   "y": {"field": "y", "type": "quantitative", "scale": {"zero": false, "nice": false, "padding": 2}, "axis": {"title": "Thermal efficiency (%)", "tickCount": 3}},
   "color": {"field": "s", "type": "nominal", "scale": {"domain": ["l","m","d"], "range": ["#8fb0e8","#7a5ad8","#3a2ab0"]}, "legend": null}}}
], "spacing": 6, "resolve": {"scale": {"color": "independent"}, "legend": {"color": "independent"}}}
],
"config": {
 "font": "Liberation Serif",
 "view": {"stroke": "#888", "strokeWidth": 0.6},
 "axis": {"labelFontSize": 2.6, "titleFontSize": 2.8, "tickSize": 1.5, "labelPadding": 0.5, "titlePadding": 1, "domain": false, "grid": false, "labelColor": "#333", "titleColor": "#333", "tickColor": "#666", "tickWidth": 0.5, "labelFont": "Liberation Serif", "titleFont": "Liberation Serif", "titleFontWeight": "normal"},
 "legend": {"labelFontSize": 2.8, "labelFont": "Liberation Serif", "symbolSize": 12, "symbolStrokeWidth": 1, "symbolType": "stroke", "rowPadding": 0.2, "padding": 1.5, "labelOffset": 1.5, "labelLimit": 100, "labelColor": "#000", "strokeWidth": 0.4},
 "title": {"font": "Liberation Serif", "fontSize": 7, "fontWeight": "normal", "color": "#000"}
}
}
